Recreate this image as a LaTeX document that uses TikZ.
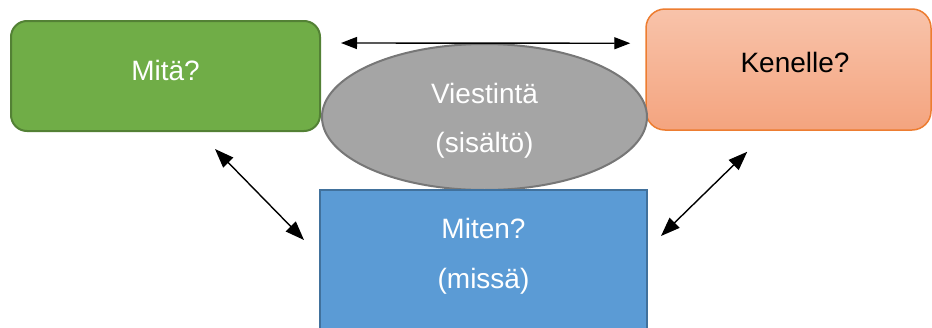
\documentclass[tikz,border=0pt]{standalone}
\usepackage{fontspec}
\setmainfont{Liberation Sans}
\usetikzlibrary{arrows.meta,calc,shapes.geometric}

\definecolor{greenfill}{HTML}{70AD47}
\definecolor{greenline}{HTML}{538135}
\definecolor{orangetop}{HTML}{F8C3AA}
\definecolor{orangebot}{HTML}{F4A47F}
\definecolor{orangeline}{HTML}{ED7D31}
\definecolor{grayfill}{HTML}{A5A5A5}
\definecolor{grayline}{HTML}{777777}
\definecolor{bluefill}{HTML}{5B9BD5}
\definecolor{blueline}{HTML}{41719C}

\tikzset{
  txt/.style={font=\fontsize{28}{49}\selectfont, align=center},
  greenbox/.style={draw=greenline, fill=greenfill, line width=2pt,
    rounded corners=16pt, minimum width=309pt, minimum height=110pt,
    inner sep=0pt},
  orangebox/.style={draw=orangeline, top color=orangetop, bottom color=orangebot,
    line width=1.5pt, rounded corners=19pt, minimum width=285pt,
    minimum height=121pt, inner sep=0pt},
  grayellipse/.style={ellipse, draw=grayline, fill=grayfill, line width=2pt,
    minimum width=325pt, minimum height=146pt, inner sep=0pt},
  bluebox/.style={draw=blueline, fill=bluefill, line width=2pt,
    minimum width=327pt, minimum height=160pt, inner sep=0pt},
  link/.style={line width=1.4pt, {Triangle[length=16pt,width=12pt]}-{Triangle[length=16pt,width=12pt]}},
  diag/.style={line width=1.4pt, {Triangle[length=19pt,width=14pt]}-{Triangle[length=19pt,width=14pt]}}
}

\begin{document}
\begin{tikzpicture}[x=1pt, y=-1pt]
  \clip (0,0) rectangle (932,327);
  \fill[white] (0,0) rectangle (932,327);

  % the four parts of the message
  \node[greenbox,
        label={[txt, text=white, shift={(0,-6)}]center:Mitä?}]
        (mita) at (165.5,76) {};
  \node[orangebox,
        label={[txt, text=black, shift={(6.5,-7.5)}]center:Kenelle?}]
        (kenelle) at (788.5,69.5) {};
  \node[grayellipse,
        label={[txt, text=white, shift={(0,4)}]center:Viestintä\\(sisältö)}]
        (viestinta) at (484.5,117) {};
  \node[bluebox, anchor=north,
        label={[txt, text=white, shift={(0,-14)}, font=\fontsize{28}{50}\selectfont]center:Miten?\\(missä)}]
        (miten) at (483.5,189) {};

  % two-way links between the parts
  \draw[link] ($(mita.north east)+(20,23)$) -- ($(kenelle.north west)+(-15,35)$);
  \draw[diag] ($(mita.south east)+(-106,17)$) -- ($(miten.north west)+(-15,51)$);
  \draw[diag] ($(kenelle.south west)+(102,21)$) -- ($(miten.north east)+(13,47)$);
\end{tikzpicture}
\end{document}
